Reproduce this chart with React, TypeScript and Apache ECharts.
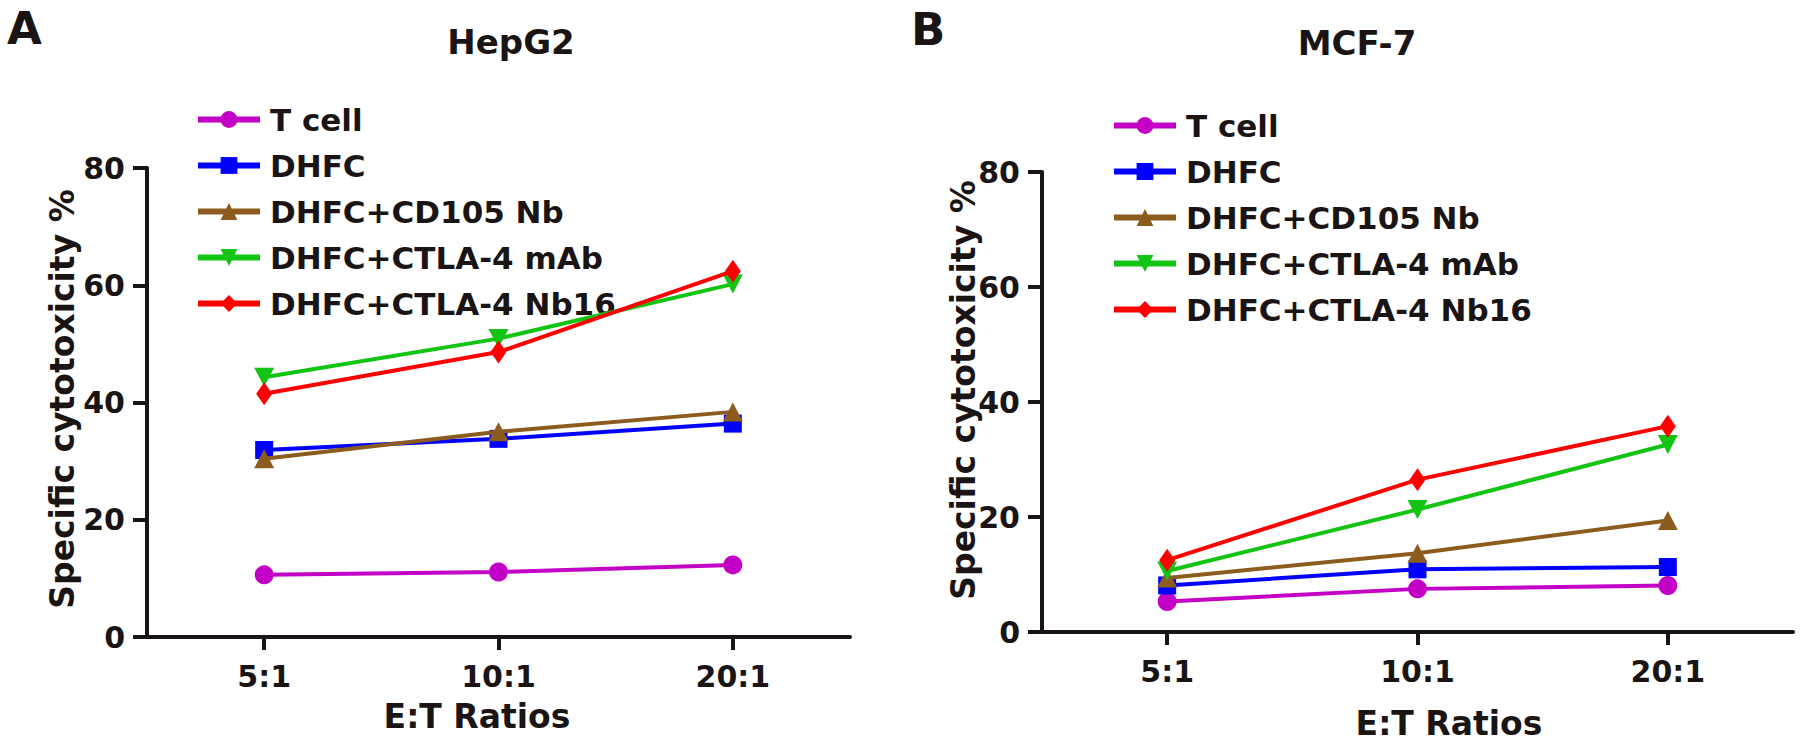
import React, { useEffect, useRef } from "react";
import * as echarts from "echarts";

const categories = ["5:1", "10:1", "20:1"];
const seriesNames = ["T cell", "DHFC", "DHFC+CD105 Nb", "DHFC+CTLA-4 mAb", "DHFC+CTLA-4 Nb16"];
const yTicks = { min: 0, max: 80, interval: 20 };

// HepG2 (panel A)
const hepTcell = [10.6, 11.1, 12.3];
const hepDHFC = [31.9, 33.8, 36.4];
const hepCD105 = [30.4, 35.0, 38.4];
const hepMAb = [44.3, 50.9, 60.2];
const hepNb16 = [41.5, 48.6, 62.4];

// MCF-7 (panel B)
const mcfTcell = [5.3, 7.5, 8.1];
const mcfDHFC = [8.1, 10.9, 11.3];
const mcfCD105 = [9.4, 13.7, 19.4];
const mcfMAb = [10.6, 21.3, 32.6];
const mcfNb16 = [12.5, 26.5, 35.8];

const colors = ["#C300C6", "#0000FF", "#8C5C1E", "#14C414", "#FF0000"];
const symbols = ["circle", "rect", "triangle", "path://M0,0L2,0L1,1.8Z", "diamond"];
const symbolSizes: any[] = [19, 18, [20, 19], [20, 19], [16, 23]];

const FONT = "'DejaVu Sans', 'Liberation Sans', Arial, sans-serif";
const INK = "#1a1414";

export default function App() {
  const ref = useRef<HTMLDivElement>(null);
  useEffect(() => {
    document.body.style.margin = "0";
    const chart = echarts.init(ref.current!, null, { renderer: "svg" });
    const hep = [hepTcell, hepDHFC, hepCD105, hepMAb, hepNb16];
    const mcf = [mcfTcell, mcfDHFC, mcfCD105, mcfMAb, mcfNb16];

    const mkX = (gi: number) => ({
      type: "category",
      gridIndex: gi,
      data: categories,
      boundaryGap: true,
      axisLine: { show: true, lineStyle: { color: INK, width: 4 } },
      axisTick: { show: true, alignWithLabel: true, length: 13, lineStyle: { color: INK, width: 4 } },
      axisLabel: { color: INK, fontFamily: FONT, fontWeight: "bold", fontSize: 30, margin: 24, interval: 0 },
      splitLine: { show: false },
    });
    const mkY = (gi: number) => ({
      type: "value",
      gridIndex: gi,
      min: yTicks.min,
      max: yTicks.max,
      interval: yTicks.interval,
      axisLine: { show: true, lineStyle: { color: INK, width: 4 } },
      axisTick: { show: true, length: 14, lineStyle: { color: INK, width: 4 } },
      axisLabel: { color: INK, fontFamily: FONT, fontWeight: "bold", fontSize: 30, margin: 22 },
      splitLine: { show: false },
    });

    const series: any[] = [];
    [hep, mcf].forEach((panel, gi) => {
      panel.forEach((vals, i) => {
        series.push({
          type: "line",
          name: seriesNames[i],
          xAxisIndex: gi,
          yAxisIndex: gi,
          data: vals,
          symbol: symbols[i],
          symbolSize: symbolSizes[i],
          lineStyle: { color: colors[i], width: 4 },
          itemStyle: { color: colors[i] },
          z: 2 + i,
        });
      });
    });

    const legendCommon = {
      orient: "vertical",
      padding: 0,
      itemWidth: 62,
      itemHeight: 21,
      itemGap: 15,
      data: seriesNames,
      lineStyle: { width: 6 },
      textStyle: { color: INK, fontFamily: FONT, fontWeight: "bold", fontSize: 31, lineHeight: 30, padding: [0, 0, 0, 5] },
    };

    const txt = (text: string, x: number, y: number, size: number, align = "center", rot = 0) => ({
      type: "text",
      x,
      y,
      rotation: rot,
      style: {
        text,
        fill: INK,
        font: `bold ${size}px ${FONT}`,
        textAlign: align,
        textVerticalAlign: "middle",
      },
    });

    chart.setOption({
      animation: false,
      backgroundColor: "#ffffff",
      grid: [
        { left: 147, top: 168, width: 703, height: 469 },
        { left: 1042, top: 172, width: 751, height: 460 },
      ],
      xAxis: [mkX(0), mkX(1)],
      yAxis: [mkY(0), mkY(1)],
      legend: [
        { ...legendCommon, left: 195, top: 104 },
        { ...legendCommon, left: 1111, top: 110 },
      ],
      series,
      graphic: [
        txt("A", 7, 28, 45, "left"),
        txt("B", 911, 29, 45, "left"),
        txt("HepG2", 511, 42, 34),
        txt("MCF-7", 1357, 43, 34),
        txt("E:T Ratios", 477, 716, 33),
        txt("E:T Ratios", 1449, 723, 33),
        txt("Specific cytotoxicity %", 62, 399, 33, "center", Math.PI / 2),
        txt("Specific cytotoxicity %", 963, 390, 33, "center", Math.PI / 2),
      ],
    });
    return () => chart.dispose();
  }, []);
  return <div ref={ref} style={{ width: 1800, height: 741 }} />;
}
